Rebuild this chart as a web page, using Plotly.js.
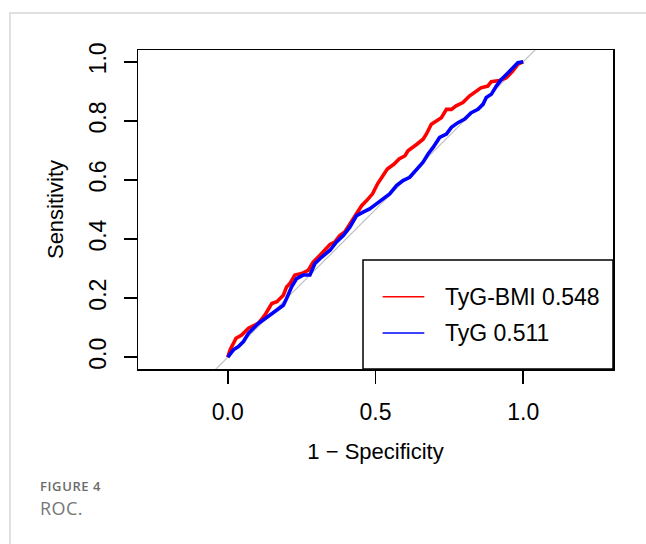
<!DOCTYPE html>
<html>
<head>
<meta charset="utf-8">
<script src="https://cdn.plot.ly/plotly-3.0.1.min.js"></script>
<style>
html,body{margin:0;padding:0;background:#fff;}
#wrap{position:relative;width:646px;height:544px;overflow:hidden;}
#frame{position:absolute;left:9px;top:12px;width:640px;height:540px;border-top:2px solid #e0e0e0;border-left:2px solid #e0e0e0;}
#chart{position:absolute;left:0;top:0;width:646px;height:544px;}
.cap1{position:absolute;left:40px;top:477px;font-family:"Open Sans",sans-serif;font-size:13px;line-height:normal;font-weight:600;color:#6b6b6b;letter-spacing:0.6px;}
.cap2{position:absolute;left:40px;top:496px;font-family:"Open Sans",sans-serif;font-size:18px;line-height:normal;color:#777;letter-spacing:0.4px;}
</style>
</head>
<body>
<div id="wrap">
<div id="frame"></div>
<div id="chart"></div>
<div class="cap1">FIGURE 4</div>
<div class="cap2">ROC.</div>
</div>
<script>
// TyG-BMI ROC curve (1 - specificity, sensitivity)
const bmiFpr = [0,0.008,0.028,0.047,0.07,0.089,0.104,0.126,0.149,0.166,0.188,0.199,0.21,0.227,0.25,0.272,0.289,0.312,0.329,0.346,0.362,0.379,0.396,0.413,0.436,0.453,0.47,0.49,0.507,0.523,0.54,0.563,0.58,0.6,0.61,0.64,0.661,0.672,0.689,0.706,0.723,0.74,0.757,0.773,0.796,0.818,0.84,0.857,0.88,0.892,0.92,0.943,0.965,0.982,1];
const bmiTpr = [0,0.025,0.064,0.075,0.098,0.106,0.115,0.143,0.182,0.188,0.21,0.238,0.249,0.278,0.283,0.294,0.322,0.345,0.362,0.382,0.39,0.412,0.424,0.452,0.485,0.513,0.53,0.553,0.587,0.609,0.637,0.654,0.671,0.682,0.699,0.721,0.738,0.755,0.789,0.8,0.811,0.839,0.839,0.851,0.862,0.884,0.901,0.912,0.918,0.933,0.937,0.946,0.969,0.993,1];
// TyG ROC curve
const tygFpr = [0,0.019,0.036,0.053,0.07,0.087,0.104,0.12,0.143,0.166,0.188,0.199,0.216,0.233,0.255,0.278,0.295,0.318,0.346,0.368,0.391,0.413,0.436,0.458,0.48,0.503,0.525,0.548,0.571,0.593,0.616,0.639,0.661,0.678,0.695,0.717,0.74,0.757,0.779,0.802,0.824,0.847,0.864,0.875,0.892,0.909,0.926,0.948,0.965,0.982,1];
const tygTpr = [0,0.025,0.036,0.053,0.081,0.098,0.115,0.126,0.143,0.16,0.176,0.199,0.238,0.266,0.278,0.278,0.317,0.339,0.362,0.39,0.412,0.44,0.479,0.491,0.502,0.519,0.536,0.553,0.581,0.598,0.609,0.637,0.66,0.688,0.71,0.744,0.755,0.778,0.794,0.806,0.828,0.839,0.856,0.879,0.89,0.918,0.94,0.962,0.979,0.997,1];
const refLine = [-0.5, 1.5];
const seriesNames = ["TyG-BMI 0.548", "TyG 0.511"];
const seriesColors = ["#ff0000", "#0000ff"];
const xTicks = [0, 0.5, 1];
const xTickText = ["0.0", "0.5", "1.0"];
const yTicks = [0, 0.2, 0.4, 0.6, 0.8, 1];
const yTickText = ["0.0", "0.2", "0.4", "0.6", "0.8", "1.0"];

const FONT = "Liberation Sans, Arial, sans-serif";
const FS = 23;
const FT = 22;

const traces = [
  {x: refLine, y: refLine, mode: "lines", line: {color: "#bebebe", width: 1.2}, showlegend: false, hoverinfo: "skip"},
  {x: bmiFpr, y: bmiTpr, mode: "lines", line: {color: seriesColors[0], width: 3.6}, name: seriesNames[0], showlegend: false},
  {x: tygFpr, y: tygTpr, mode: "lines", line: {color: seriesColors[1], width: 3.6}, name: seriesNames[1], showlegend: false}
];

// legend geometry (paper units)
const lg = {x0: 0.4737, x1: 1.0, y0: 0, y1: 0.3417, lx0: 0.515, lx1: 0.6027, tx: 0.6421, ys: [0.2266, 0.1129]};
const shapes = [
  {type: "rect", xref: "paper", yref: "paper", x0: lg.x0, x1: lg.x1, y0: lg.y0, y1: lg.y1, line: {color: "#000", width: 1.5}, fillcolor: "#fff", layer: "above"}
];
const annotations = [];
seriesNames.forEach((n, i) => {
  shapes.push({type: "line", xref: "paper", yref: "paper", x0: lg.lx0, x1: lg.lx1, y0: lg.ys[i], y1: lg.ys[i], line: {color: seriesColors[i], width: 1.5}, layer: "above"});
  annotations.push({xref: "paper", yref: "paper", x: lg.tx, y: lg.ys[i], xanchor: "left", yanchor: "middle", text: n, showarrow: false, font: {family: FONT, size: FS, color: "#000"}});
});

const layout = {
  width: 646, height: 544,
  margin: {l: 138, r: 33, t: 50, b: 175},
  paper_bgcolor: "rgba(0,0,0,0)", plot_bgcolor: "rgba(0,0,0,0)",
  font: {family: FONT, size: FS, color: "#000"},
  xaxis: {range: [-0.304, 1.304], tickvals: xTicks, ticktext: xTickText, showgrid: false, zeroline: false,
    showline: true, mirror: true, linecolor: "#000", linewidth: 1.5, ticks: "outside", ticklen: 13, tickwidth: 1.5, tickcolor: "#000",
    ticklabelstandoff: 9,
    title: {text: "1 − Specificity", font: {family: FONT, size: FT}, standoff: 19}},
  yaxis: {range: [-0.04, 1.04], tickvals: yTicks, ticktext: yTickText, showgrid: false, zeroline: false,
    showline: true, mirror: true, linecolor: "#000", linewidth: 1.5, ticks: "outside", ticklen: 13, tickwidth: 1.5, tickcolor: "#000",
    tickangle: -90, ticklabelstandoff: 8,
    title: {text: "Sensitivity", font: {family: FONT, size: FT}, standoff: 15}},
  shapes: shapes,
  annotations: annotations,
  showlegend: false
};

Plotly.newPlot("chart", traces, layout, {displayModeBar: false, staticPlot: true});
</script>
</body>
</html>
